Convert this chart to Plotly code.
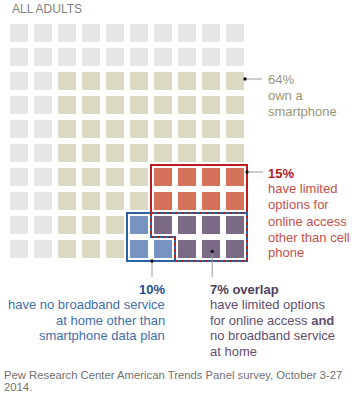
import plotly.graph_objects as go

# ---------------- data ----------------
categories = ["No smartphone", "Smartphone", "Limited options", "No broadband", "Overlap"]
cat_codes = {"N": 0, "S": 1, "R": 2, "B": 3, "O": 4}
grid_rows = [
    "NNNNNNNNNN",
    "NNNNNNNNNN",
    "NNSSSSSSSS",
    "NNSSSSSSSS",
    "NNSSSSSSSS",
    "NNSSSSSSSS",
    "NNSSSSRRRR",
    "NNSSSSRRRR",
    "NNSSSBOOOO",
    "NNSSSBBOOO",
]
pct_smartphone = 64
pct_limited = 15
pct_no_broadband = 10
pct_overlap = 7
cat_colors = ["#e6e6e6", "#dcd9c2", "#d5725a", "#7794c1", "#7a6a85"]

# ---------------- layout geometry ----------------
W, H = 357, 400
X0, Y0, P = 19, 33, 24  # pixel centre of first cell, pitch
FONT = "Liberation Sans"

ncols = len(grid_rows[0])
nrows = len(grid_rows)
z = [[cat_codes[c] for c in row] for row in grid_rows]

n = len(cat_colors)
colorscale = []
for i, c in enumerate(cat_colors):
    colorscale.append([i / n, c])
    colorscale.append([(i + 1) / n, c])

fig = go.Figure()
fig.add_trace(go.Heatmap(
    z=z, x=list(range(ncols)), y=list(range(nrows)),
    colorscale=colorscale, zmin=-0.5, zmax=n - 0.5,
    xgap=6, ygap=6, showscale=False, hoverinfo="skip",
))

RED = "#b81e1e"
BLUE = "#2a62a3"


def seg(pts, color, width=2, dash=None):
    path = "M " + " L ".join(f"{x},{y}" for x, y in pts)
    fig.add_shape(type="path", path=path, xref="x", yref="y",
                  line=dict(color=color, width=width, dash=dash or "solid"))


# solid outlines
seg([(5.5, 7.5), (5.5, 5.5), (9.5, 5.5), (9.5, 7.5)], RED)
seg([(5.5, 7.5), (4.5, 7.5), (4.5, 9.5), (6.5, 9.5)], BLUE)
# overlap edges: blue base, red dotted on top
overlap_paths = [
    [(5.5, 7.5), (5.5, 8.5), (6.5, 8.5), (6.5, 9.5), (9.5, 9.5), (9.5, 7.5)],
    [(5.5, 7.5), (9.5, 7.5)],
]
for pth in overlap_paths:
    seg(pth, BLUE)
    seg(pth, RED, dash="dot")

# pointer lines and dots (data coords)
LINE_C = "#9a9a9a"


def pointer(x1, y1, x2, y2):
    fig.add_shape(type="line", xref="x", yref="y", x0=x1, y0=y1, x1=x2, y1=y2,
                  line=dict(color=LINE_C, width=1))
    r = 0.07
    fig.add_shape(type="circle", xref="x", yref="y", x0=x1 - r, x1=x1 + r,
                  y0=y1 - r, y1=y1 + r, fillcolor="#111", line=dict(width=0))


def px2x(px):
    return (px - X0) / P


def py2y(py):
    return (py - Y0) / P


pointer(px2x(245), py2y(79), px2x(262), py2y(79))
pointer(9.5, py2y(172), px2x(263), py2y(172))
pointer(px2x(152), 9.5, px2x(152), py2y(277))
pointer(8.05, 9.1, 8.05, py2y(277))


# ---------------- text ----------------
def txt(s, px, py, color, size=13, anchor="left"):
    fig.add_annotation(text=s, x=px / W, y=1 - py / H, xref="paper", yref="paper",
                       xanchor=anchor, yanchor="middle", showarrow=False,
                       font=dict(family=FONT, size=size, color=color))


txt("ALL ADULTS", 10, 9, "#808080", size=12)

KH = "#9b9575"
for i, s in enumerate([f"{pct_smartphone}%", "own a", "smartphone"]):
    txt(s, 266, 79 + i * 16, KH)

RT = "#c4504a"
txt(f"<b>{pct_limited}%</b>", 266, 173, "#b01c1c")
for i, s in enumerate(["have limited", "options for", "online access", "other than cell", "phone"]):
    txt(s, 266, 189 + i * 16, RT)

BT = "#3f6fab"
txt(f"<b>{pct_no_broadband}%</b>", 167, 289, "#1f4f8f", anchor="right")
for i, s in enumerate(["have no broadband service", "at home other than", "smartphone data plan"]):
    txt(s, 167, 304.5 + i * 15.7, BT, anchor="right")

PT = "#5f4f70"
txt(f"<b>{pct_overlap}% overlap</b>", 208, 289, "#4f3f60")
for i, s in enumerate(["have limited options", "for online access <b>and</b>",
                       "no broadband service", "at home"]):
    txt(s, 208, 304.5 + i * 15.7, PT)

txt("Pew Research Center American Trends Panel survey, October 3-27", 2, 375, "#707070", size=11.3)
txt("2014.", 2, 387, "#707070", size=11.3)

fig.update_layout(
    width=W, height=H, margin=dict(l=0, r=0, t=0, b=0),
    paper_bgcolor="white", plot_bgcolor="white", showlegend=False,
    xaxis=dict(range=[-X0 / P, (W - X0) / P], visible=False, fixedrange=True),
    yaxis=dict(range=[(H - Y0) / P, -Y0 / P], visible=False, fixedrange=True),
)

fig.write_html("out.html", config={"displayModeBar": False},
               post_script="document.body.style.margin='0';document.body.style.overflow='hidden';")
